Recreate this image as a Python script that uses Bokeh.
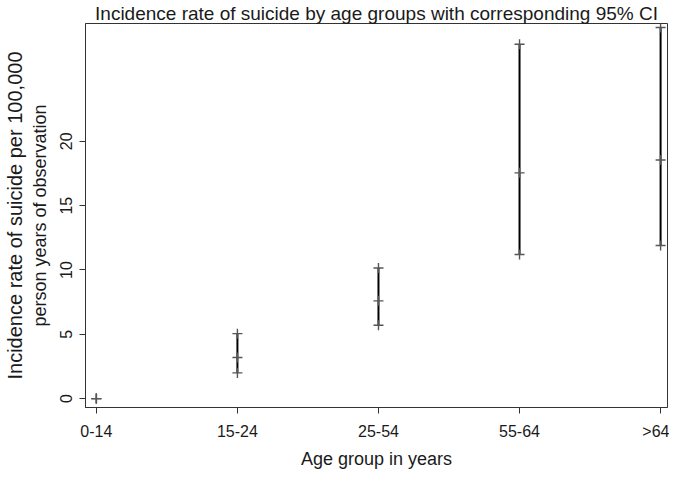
from bokeh.plotting import figure
from bokeh.models import Range1d, FixedTicker, Title, ColumnDataSource
from bokeh.embed import file_html
from bokeh.resources import INLINE

groups = ["0-14", "15-24", "25-54", "55-64", ">64"]
rate = [0.0, 3.2, 7.6, 17.55, 18.55]
lower = [0.0, 2.0, 5.7, 11.2, 11.9]
upper = [0.0, 5.05, 10.15, 27.55, 28.85]
y_ticks = [0, 5, 10, 15, 20]

FONT = "Liberation Sans"
TXT = "#1a1a1a"
xs = list(range(len(groups)))
src = ColumnDataSource(dict(x=xs, rate=rate, lower=lower, upper=upper))

p = figure(width=669, height=471, output_backend="svg", toolbar_location=None,
           x_range=Range1d(-0.077, 4.049), y_range=Range1d(-0.69, 29.16),
           min_border_left=81, min_border_right=2, min_border_top=0, min_border_bottom=0)

p.title.text = "Incidence rate of suicide by age groups with corresponding 95% CI"
p.title.text_font = FONT
p.title.text_font_size = "19px"
p.title.text_font_style = "normal"
p.title.text_color = TXT
p.title.align = "center"
p.title.standoff = 0
p.title.offset = -2

p.add_layout(Title(text="Incidence rate of suicide per 100,000", text_font=FONT,
                   text_font_size="20px", text_font_style="normal", align="center",
                   text_color=TXT, standoff=2), "left")

p.segment(x0="x", y0="lower", x1="x", y1="upper", source=src, line_color="black", line_width=2)
for col in ("lower", "upper", "rate"):
    p.scatter(x="x", y=col, source=src, marker="cross", size=10,
              line_color="#555555", line_width=1.4)

p.xgrid.grid_line_color = None
p.ygrid.grid_line_color = None
p.outline_line_color = "#333333"
p.outline_line_width = 1

p.xaxis.ticker = FixedTicker(ticks=xs)
p.xaxis.major_label_overrides = {i: g for i, g in enumerate(groups)}
p.xaxis.axis_label = "Age group in years"
p.yaxis.ticker = FixedTicker(ticks=y_ticks)
p.yaxis.axis_label = "person years of observation"
p.yaxis.major_label_orientation = "parallel"

for ax in (p.xaxis[0], p.yaxis[0]):
    ax.axis_line_color = "#333333"
    ax.major_tick_line_color = "#333333"
    ax.major_tick_out = 6
    ax.major_tick_in = 0
    ax.minor_tick_line_color = None
    ax.major_label_text_font = FONT
    ax.major_label_text_font_size = "16px"
    ax.major_label_text_color = TXT
    ax.axis_label_text_font = FONT
    ax.axis_label_text_font_style = "normal"
    ax.axis_label_text_color = TXT

p.xaxis.major_label_standoff = 9
p.xaxis.axis_label_text_font_size = "18px"
p.xaxis.axis_label_standoff = 6
p.yaxis.major_label_standoff = 7
p.yaxis.axis_label_text_font_size = "18px"
p.yaxis.axis_label_standoff = 8

open("out.html", "w").write(file_html(p, INLINE))
